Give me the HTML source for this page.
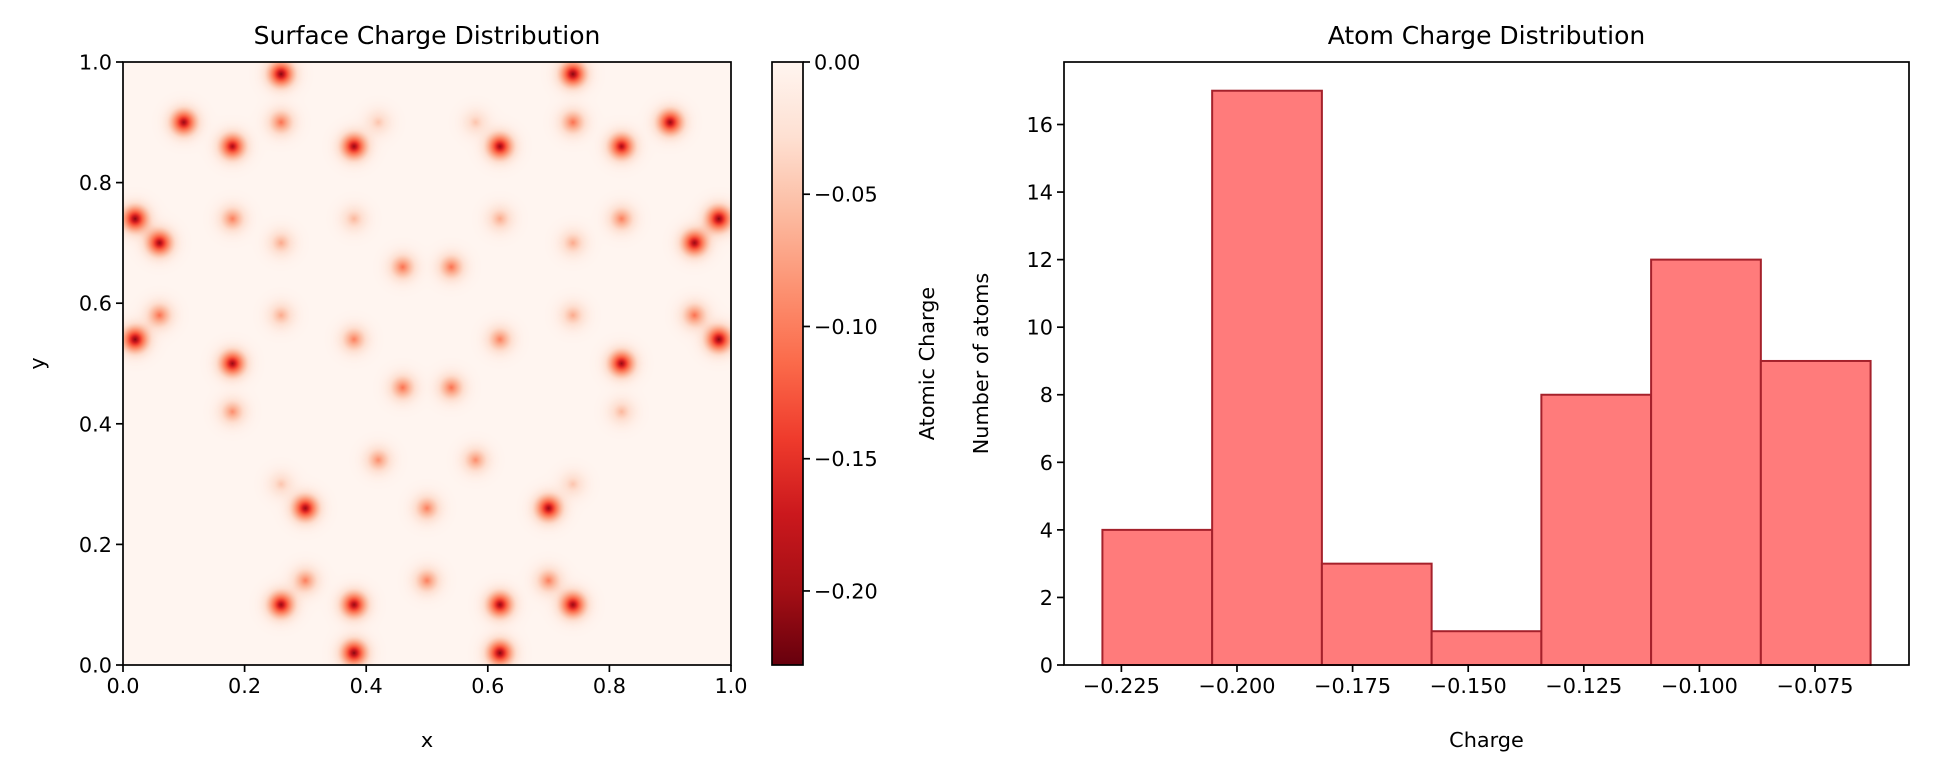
<!DOCTYPE html>
<html><head><meta charset="utf-8">
<style>
body{margin:0;background:#fff;}
svg text{font-family:"DejaVu Sans","Liberation Sans",sans-serif;fill:#000;}
</style></head>
<body>
<svg id="fig" width="1934" height="773" xmlns="http://www.w3.org/2000/svg">
<defs>
<linearGradient id="reds" x1="0" y1="1" x2="0" y2="0">
<stop offset="0" stop-color="#67000d"/><stop offset="0.125" stop-color="#a50f15"/><stop offset="0.25" stop-color="#cb181d"/><stop offset="0.375" stop-color="#ef3b2c"/><stop offset="0.5" stop-color="#fb6a4a"/><stop offset="0.625" stop-color="#fc9272"/><stop offset="0.75" stop-color="#fcbba1"/><stop offset="0.875" stop-color="#fee0d2"/><stop offset="1" stop-color="#fff5f0"/>
</linearGradient>
</defs>
<g id="left"></g>
<g id="cbar"></g>
<g id="right"></g>
</svg>
<script>
// ---- heatmap data ----
const atomX = [0.26,0.74,0.10,0.90,0.18,0.38,0.62,0.82,0.02,0.98,0.06,0.94,0.02,0.98,0.18,0.82,0.30,0.70,0.26,0.38,0.62,0.74,0.38,0.62,
 0.26,0.74,0.18,0.82,0.06,0.94,0.38,0.62,0.46,0.54,0.46,0.54,0.18,0.30,0.70,0.50,0.50,0.42,0.58,
 0.42,0.58,0.26,0.74,0.38,0.62,0.26,0.74,0.82,0.26,0.74];
const atomY = [0.98,0.98,0.90,0.90,0.86,0.86,0.86,0.86,0.74,0.74,0.70,0.70,0.54,0.54,0.50,0.50,0.26,0.26,0.10,0.10,0.10,0.10,0.02,0.02,
 0.90,0.90,0.74,0.74,0.58,0.58,0.54,0.54,0.66,0.66,0.46,0.46,0.42,0.14,0.14,0.14,0.26,0.34,0.34,
 0.90,0.90,0.70,0.70,0.74,0.74,0.58,0.58,0.42,0.30,0.30];
const atomQ = [-0.22,-0.22,-0.21,-0.21,-0.20,-0.21,-0.21,-0.20,-0.22,-0.22,-0.21,-0.21,-0.22,-0.22,-0.21,-0.21,-0.21,-0.21,-0.21,-0.21,-0.21,-0.21,-0.22,-0.22,
 -0.11,-0.11,-0.10,-0.10,-0.11,-0.11,-0.10,-0.10,-0.11,-0.11,-0.11,-0.11,-0.09,-0.10,-0.10,-0.10,-0.10,-0.09,-0.09,
 -0.05,-0.05,-0.07,-0.07,-0.06,-0.07,-0.07,-0.07,-0.06,-0.05,-0.05];
const vmin = -0.228;
const cbarTicks = [0,-0.05,-0.10,-0.15,-0.20];
const heatTicks = [0,0.2,0.4,0.6,0.8,1.0];
// ---- histogram data ----
const binStart = -0.2291, binWidth = 0.02373;
const counts = [4,17,3,1,8,12,9];
const histXTicks = [-0.225,-0.200,-0.175,-0.150,-0.125,-0.100,-0.075];
const histYTicks = [0,2,4,6,8,10,12,14,16];

const NS="http://www.w3.org/2000/svg";
function el(tag,attrs,parent,text){const e=document.createElementNS(NS,tag);for(const k in attrs)e.setAttribute(k,attrs[k]);if(text!==undefined)e.textContent=text;parent.appendChild(e);return e;}
function fmt(v,d){return (v<0?"\u2212":"")+Math.abs(v).toFixed(d);}

const stops=[[255,245,240],[254,224,210],[252,187,161],[252,146,114],[251,106,74],[239,59,44],[203,24,29],[165,15,21],[103,0,13]];
function reds(t){t=Math.max(0,Math.min(1,t));const p=t*8,i=Math.min(7,Math.floor(p)),f=p-i;const a=stops[i],b=stops[i+1];return [a[0]+(b[0]-a[0])*f,a[1]+(b[1]-a[1])*f,a[2]+(b[2]-a[2])*f];}

// ---- left heatmap ----
const L={x0:123,x1:731,y0:62,y1:665};
const hx=v=>L.x0+v*(L.x1-L.x0), hy=v=>L.y1-v*(L.y1-L.y0);
const left=document.getElementById('left');
const W=L.x1-L.x0,H=L.y1-L.y0;
const cv=document.createElement('canvas');cv.width=W;cv.height=H;
const ctx=cv.getContext('2d');const img=ctx.createImageData(W,H);
const lam=0.009, s2=2*0.015*0.015;
for(let j=0;j<H;j++){const y=1-(j+0.5)/H;for(let i=0;i<W;i++){const x=(i+0.5)/W;let v=0;
 for(let k=0;k<atomX.length;k++){const dx=x-atomX[k],dy=y-atomY[k];const d2=dx*dx+dy*dy;if(d2<0.005){const d=Math.sqrt(d2);v+=atomQ[k]*(0.45*Math.exp(-d/lam)+0.55*Math.exp(-d2/s2));}}
 const c=reds(v/vmin);const o=(j*W+i)*4;img.data[o]=c[0];img.data[o+1]=c[1];img.data[o+2]=c[2];img.data[o+3]=255;}}
ctx.putImageData(img,0,0);
const im=el('image',{x:L.x0,y:L.y0,width:W,height:H,href:cv.toDataURL()},left);


const lf=el('rect',{x:L.x0,y:L.y0,width:W,height:H,fill:'none',stroke:'#000','stroke-width':1.7},left);


heatTicks.forEach(t=>{
 el('line',{x1:hx(t),x2:hx(t),y1:L.y1,y2:L.y1+7,stroke:'#000','stroke-width':1.7},left);
 const tx=el('text',{x:hx(t),y:L.y1+28,'text-anchor':'middle','font-size':20.8},left,t.toFixed(1));
 
 
 el('line',{x1:L.x0-7,x2:L.x0,y1:hy(t),y2:hy(t),stroke:'#000','stroke-width':1.7},left);
 const ty=el('text',{x:L.x0-11,y:hy(t)+7.5,'text-anchor':'end','font-size':20.8},left,t.toFixed(1));
 
 
});
let t1=el('text',{x:(L.x0+L.x1)/2,y:44,'text-anchor':'middle','font-size':25},left,'Surface Charge Distribution');

let xl=el('text',{x:(L.x0+L.x1)/2,y:747,'text-anchor':'middle','font-size':20.8},left,'x');

let yl=el('text',{x:44,y:(L.y0+L.y1)/2,'text-anchor':'middle','font-size':20.8,transform:`rotate(-90 44 ${(L.y0+L.y1)/2})`},left,'y');


// ---- colorbar ----
const C={x0:772,x1:803,y0:62,y1:665};
const cy=v=>C.y0+(v/vmin)*(C.y1-C.y0);
const cb=document.getElementById('cbar');
let cr=el('rect',{x:C.x0,y:C.y0,width:C.x1-C.x0,height:C.y1-C.y0,fill:'url(#reds)',stroke:'#000','stroke-width':1.7},cb);

cbarTicks.forEach(t=>{
 el('line',{x1:C.x1,x2:C.x1+7,y1:cy(t),y2:cy(t),stroke:'#000','stroke-width':1.7},cb);
 const tt=el('text',{x:C.x1+11,y:cy(t)+7.5,'font-size':20.8},cb,fmt(t,2));
 
});
let cl=el('text',{x:934,y:(C.y0+C.y1)/2,'text-anchor':'middle','font-size':20.8,transform:`rotate(-90 934 ${(C.y0+C.y1)/2})`},cb,'Atomic Charge');


// ---- histogram ----
const R={x0:1064,x1:1909,y0:62,y1:665};
const xmin=binStart-0.05*binWidth*7, xmax=binStart+binWidth*7+0.05*binWidth*7;
const ymax=17.85;
const rx=v=>R.x0+(v-xmin)/(xmax-xmin)*(R.x1-R.x0);
const ry=v=>R.y1-v/ymax*(R.y1-R.y0);
const right=document.getElementById('right');
counts.forEach((c,i)=>{
 const a=binStart+i*binWidth,b=a+binWidth;
 const r=el('rect',{x:rx(a),y:ry(c),width:rx(b)-rx(a),height:ry(0)-ry(c),fill:'#ff7b7b',stroke:'#a5212b','stroke-width':2},right);
 
 
});
let rf=el('rect',{x:R.x0,y:R.y0,width:R.x1-R.x0,height:R.y1-R.y0,fill:'none',stroke:'#000','stroke-width':1.7},right);

histXTicks.forEach(t=>{
 el('line',{x1:rx(t),x2:rx(t),y1:R.y1,y2:R.y1+7,stroke:'#000','stroke-width':1.7},right);
 const tx=el('text',{x:rx(t),y:R.y1+28,'text-anchor':'middle','font-size':20.8},right,fmt(t,3));
 
});
histYTicks.forEach(t=>{
 el('line',{x1:R.x0-7,x2:R.x0,y1:ry(t),y2:ry(t),stroke:'#000','stroke-width':1.7},right);
 const ty=el('text',{x:R.x0-11,y:ry(t)+7.5,'text-anchor':'end','font-size':20.8},right,String(t));
 
});
let t2=el('text',{x:(R.x0+R.x1)/2,y:44,'text-anchor':'middle','font-size':25},right,'Atom Charge Distribution');

let xl2=el('text',{x:(R.x0+R.x1)/2,y:747,'text-anchor':'middle','font-size':20.8},right,'Charge');

let yl2=el('text',{x:988,y:(R.y0+R.y1)/2,'text-anchor':'middle','font-size':20.8,transform:`rotate(-90 988 ${(R.y0+R.y1)/2})`},right,'Number of atoms');

</script>
</body></html>
